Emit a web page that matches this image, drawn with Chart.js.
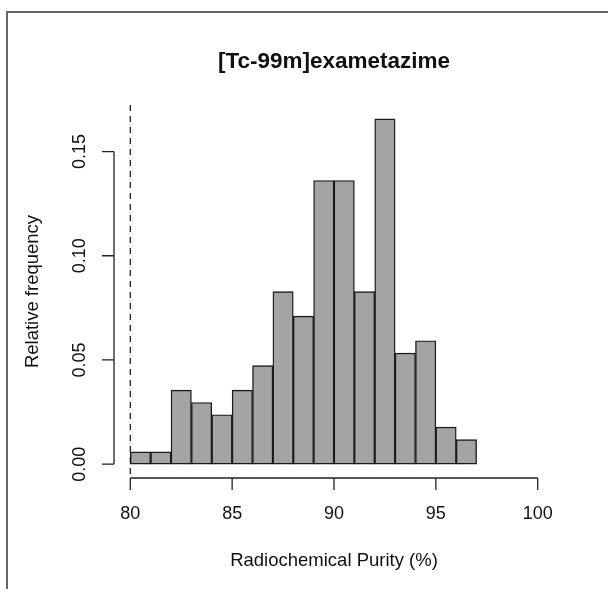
<!DOCTYPE html>
<html>
<head>
<meta charset="utf-8">
<script src="https://cdn.jsdelivr.net/npm/chart.js@4"></script>
<style>
  html, body { margin: 0; padding: 0; background: #fff; }
  #wrap { width: 608px; height: 589px; position: relative; }
</style>
</head>
<body>
<div id="wrap"><canvas id="myChart" width="608" height="589"></canvas></div>
<script>
// histogram bins (left edges) and relative frequency
const binStarts = [80, 81, 82, 83, 84, 85, 86, 87, 88, 89, 90, 91, 92, 93, 94, 95, 96];
const relFreq = [0.0059, 0.0059, 0.0355, 0.0296, 0.0237, 0.0355, 0.0473, 0.0828, 0.0710, 0.1361, 0.1361, 0.0828, 0.1657, 0.0533, 0.0592, 0.0178, 0.0118];
const xTicks = [80, 85, 90, 95, 100];
const yTicks = [0.00, 0.05, 0.10, 0.15];
const cutoff = 80;

const titleText = "[Tc-99m]exametazime";
const xTitle = "Radiochemical Purity (%)";
const yTitle = "Relative frequency";

const FONT = "'Liberation Sans', Arial, sans-serif";

// R style axes, labels, title and the dashed cut-off line
const rAxes = {
    id: "rAxes",
    afterDraw(chart) {
        const ctx = chart.ctx;
        const xs = chart.scales.x, ys = chart.scales.y;
        const area = chart.chartArea;
        ctx.save();

        // outer frame (top and left only visible)
        ctx.strokeStyle = "#666";
        ctx.lineWidth = 2;
        ctx.beginPath();
        ctx.moveTo(7, 589);
        ctx.lineTo(7, 12);
        ctx.lineTo(608, 12);
        ctx.stroke();

        ctx.strokeStyle = "#222";
        ctx.lineWidth = 1.3;
        ctx.fillStyle = "#111";
        ctx.font = "18px " + FONT;

        // x axis
        const xb = area.bottom;
        ctx.beginPath();
        ctx.moveTo(xs.getPixelForValue(xTicks[0]), xb);
        ctx.lineTo(xs.getPixelForValue(xTicks[xTicks.length - 1]), xb);
        xTicks.forEach(t => {
            const px = xs.getPixelForValue(t);
            ctx.moveTo(px, xb);
            ctx.lineTo(px, xb + 12);
        });
        ctx.stroke();
        ctx.textAlign = "center";
        ctx.textBaseline = "middle";
        xTicks.forEach(t => ctx.fillText(String(t), xs.getPixelForValue(t), 514));

        // y axis
        const yl = area.left;
        ctx.beginPath();
        ctx.moveTo(yl, ys.getPixelForValue(yTicks[0]));
        ctx.lineTo(yl, ys.getPixelForValue(yTicks[yTicks.length - 1]));
        yTicks.forEach(t => {
            const py = ys.getPixelForValue(t);
            ctx.moveTo(yl, py);
            ctx.lineTo(yl - 12, py);
        });
        ctx.stroke();
        yTicks.forEach(t => {
            ctx.save();
            ctx.translate(80, ys.getPixelForValue(t));
            ctx.rotate(-Math.PI / 2);
            ctx.fillText(t.toFixed(2), 0, 0);
            ctx.restore();
        });

        // axis titles
        ctx.font = "18.5px " + FONT;
        ctx.fillText(xTitle, (area.left + area.right) / 2, 561);
        ctx.save();
        ctx.translate(33, (area.top + area.bottom) / 2);
        ctx.rotate(-Math.PI / 2);
        ctx.fillText(yTitle, 0, 0);
        ctx.restore();

        // main title
        ctx.font = "bold 22.5px " + FONT;
        ctx.fillText(titleText, (area.left + area.right) / 2, 62);

        // dashed vertical line at cutoff
        ctx.strokeStyle = "#111";
        ctx.lineWidth = 1.2;
        ctx.setLineDash([6, 5]);
        ctx.beginPath();
        const cx = xs.getPixelForValue(cutoff);
        ctx.moveTo(cx, area.top);
        ctx.lineTo(cx, area.bottom);
        ctx.stroke();

        ctx.restore();
    }
};

const yMaxData = Math.max(...relFreq);
const ctx = document.getElementById("myChart");
const chart = new Chart(ctx, {
    type: "bar",
    data: {
        datasets: [{
            label: "Relative frequency",
            data: binStarts.map((b, i) => ({ x: b + 0.5, y: relFreq[i] })),
            backgroundColor: "#a4a4a4",
            borderColor: "#1a1a1a",
            borderWidth: 1.4,
            borderSkipped: false,
            barPercentage: 1,
            categoryPercentage: 1,
            grouped: false
        }]
    },
    options: {
        responsive: false,
        animation: false,
        events: [],
        layout: { padding: { left: 114, right: 54, top: 105, bottom: 111 } },
        plugins: {
            legend: { display: false },
            tooltip: { enabled: false },
            title: { display: false }
        },
        scales: {
            x: {
                type: "linear",
                display: false,
                offset: false,
                min: 79.2,
                max: 100.8
            },
            y: {
                type: "linear",
                display: false,
                min: -0.04 * yMaxData,
                max: 1.04 * yMaxData
            }
        }
    },
    plugins: [rAxes]
});
</script>
</body>
</html>
